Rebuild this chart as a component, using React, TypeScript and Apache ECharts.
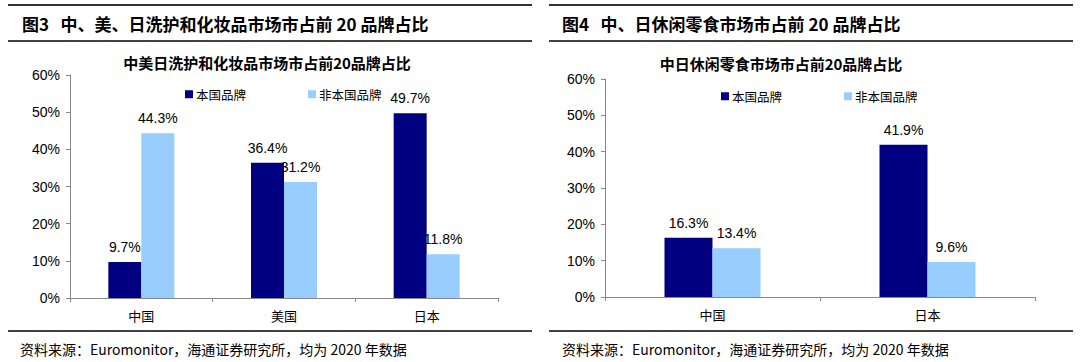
import React, { useEffect, useRef } from "react";
import * as echarts from "echarts";

const leftCategories = ["中国", "美国", "日本"];
const leftDomestic = [9.7, 36.4, 49.7];
const leftForeign = [44.3, 31.2, 11.8];

const rightCategories = ["中国", "日本"];
const rightDomestic = [16.3, 41.9];
const rightForeign = [13.4, 9.6];

const seriesNames = ["本国品牌", "非本国品牌"];
const yTicks = [0, 10, 20, 30, 40, 50, 60];

const leftHeading = "图3   中、美、日洗护和化妆品市场市占前 20 品牌占比";
const rightHeading = "图4   中、日休闲零食市场市占前 20 品牌占比";
const leftChartTitle = "中美日洗护和化妆品市场市占前20品牌占比";
const rightChartTitle = "中日休闲零食市场市占前20品牌占比";
const sourceNote = "资料来源：Euromonitor，海通证券研究所，均为 2020 年数据";

const DARK = "#000080";
const LIGHT = "#99CCFF";
const CJK = "'Noto Sans CJK SC', sans-serif";
const LATIN = "'Liberation Sans', Arial, sans-serif";

export default function App() {
  const ref = useRef<HTMLDivElement>(null);

  useEffect(() => {
    if (!ref.current) return;
    const chart = echarts.init(ref.current, undefined, { renderer: "svg" });

    const yAxisBase = (gridIndex: number) => ({
      type: "value",
      gridIndex,
      min: yTicks[0],
      max: yTicks[yTicks.length - 1],
      interval: 10,
      axisLine: { show: true, lineStyle: { color: "#888", width: 1 } },
      axisTick: { show: true, length: 4, lineStyle: { color: "#888" } },
      splitLine: { show: false },
      axisLabel: {
        formatter: (v: number) => `${v}%`,
        fontFamily: LATIN,
        fontSize: 14,
        color: "#000",
        margin: 10,
      },
    });

    const xAxisBase = (gridIndex: number, data: string[]) => ({
      type: "category",
      gridIndex,
      data,
      axisLine: { show: true, lineStyle: { color: "#888", width: 1 } },
      axisTick: { show: true, length: 4, lineStyle: { color: "#888" } },
      axisLabel: {
        fontFamily: CJK,
        fontSize: 13,
        color: "#000",
        margin: 11,
      },
    });

    const label = {
      show: true,
      position: "top",
      distance: 8,
      fontFamily: LATIN,
      fontSize: 14,
      color: "#000",
      formatter: (p: any) => `${Number(p.value).toFixed(1)}%`,
    };

    const legendBase = {
      orient: "horizontal",
      itemWidth: 8,
      itemHeight: 8,
      itemGap: 62,
      icon: "rect",
      data: seriesNames,
      textStyle: { fontFamily: CJK, fontSize: 12.5, color: "#000", padding: [0, 0, 0, -2] },
      selectedMode: false,
    };

    const line = (x1: number, y1: number, x2: number, y2: number, w: number, c: string) => ({
      type: "line",
      shape: { x1, y1, x2, y2 },
      style: { stroke: c, lineWidth: w },
    });

    const text = (x: number, y: number, t: string, font: string, align = "left") => ({
      type: "text",
      x,
      y,
      style: { text: t, font, fill: "#000", textAlign: align, textVerticalAlign: "middle" },
    });

    chart.setOption({
      animation: false,
      backgroundColor: "#fff",
      grid: [
        { left: 70, right: 582, top: 75, bottom: 64, containLabel: false },
        { left: 605, right: 45, top: 79, bottom: 65, containLabel: false },
      ],
      xAxis: [xAxisBase(0, leftCategories), xAxisBase(1, rightCategories)],
      yAxis: [yAxisBase(0), yAxisBase(1)],
      legend: [
        { ...legendBase, left: 180, top: 83 },
        { ...legendBase, left: 716, top: 85 },
      ],
      series: [
        {
          name: seriesNames[0],
          type: "bar",
          xAxisIndex: 0,
          yAxisIndex: 0,
          data: leftDomestic,
          barWidth: 33,
          barGap: "0%",
          itemStyle: { color: DARK },
          label,
        },
        {
          name: seriesNames[1],
          type: "bar",
          xAxisIndex: 0,
          yAxisIndex: 0,
          data: leftForeign,
          barWidth: 33,
          barGap: "0%",
          itemStyle: { color: LIGHT },
          label,
        },
        {
          name: seriesNames[0],
          type: "bar",
          xAxisIndex: 1,
          yAxisIndex: 1,
          data: rightDomestic,
          barWidth: 48,
          barGap: "0%",
          itemStyle: { color: DARK },
          label,
        },
        {
          name: seriesNames[1],
          type: "bar",
          xAxisIndex: 1,
          yAxisIndex: 1,
          data: rightForeign,
          barWidth: 48,
          barGap: "0%",
          itemStyle: { color: LIGHT },
          label,
        },
      ],
      graphic: [
        line(8, 5, 532, 5, 2, "#333"),
        line(8, 41, 532, 41, 1.5, "#000"),
        line(8, 331, 532, 331, 1.5, "#000"),
        line(549, 5, 1073, 5, 2, "#333"),
        line(549, 41, 1073, 41, 1.5, "#000"),
        line(549, 331, 1073, 331, 1.5, "#000"),
        text(22, 23, leftHeading, `bold 17px ${CJK}`),
        text(562, 23, rightHeading, `bold 17px ${CJK}`),
        text(267, 62, leftChartTitle, `bold 15px ${CJK}`, "center"),
        text(781, 63, rightChartTitle, `bold 15px ${CJK}`, "center"),
        text(20, 349, sourceNote, `14px ${CJK}`),
        text(562, 349, sourceNote, `14px ${CJK}`),
      ],
    });

    return () => chart.dispose();
  }, []);

  return (
    <div
      ref={ref}
      style={{ position: "absolute", left: 0, top: 0, width: 1080, height: 362, background: "#fff" }}
    />
  );
}
